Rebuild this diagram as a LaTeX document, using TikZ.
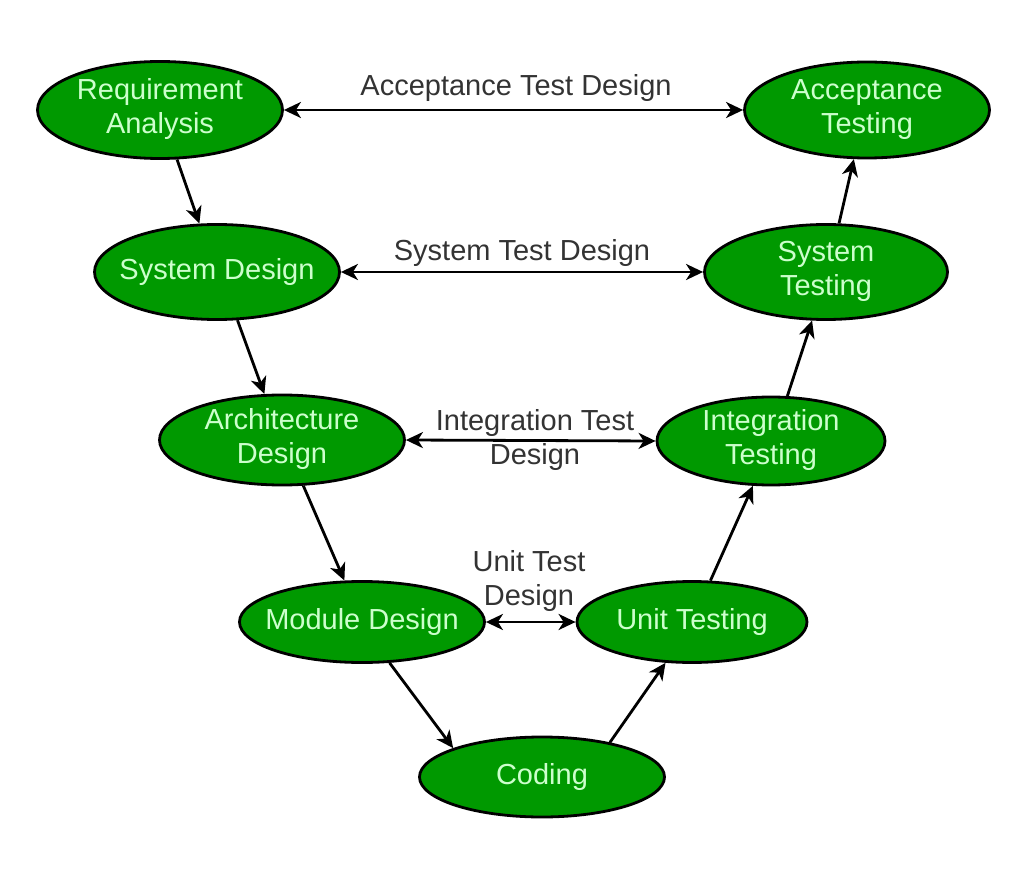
\documentclass[tikz,border=0pt]{standalone}
\usepackage{fontspec}
\setmainfont{Liberation Sans}
\usetikzlibrary{shapes.geometric,arrows.meta}
\definecolor{nodegreen}{HTML}{009900}
\definecolor{nodetext}{HTML}{CCFFCC}
\definecolor{labeltext}{HTML}{333333}
\tikzset{
  phase/.style={ellipse, draw=black, line width=2.8pt, fill=nodegreen, text=nodetext,
    inner xsep=-60pt, inner ysep=-30pt, align=center, font=\fontsize{29}{34}\selectfont},
  flow/.style={line width=2.8pt, -{Stealth[length=17pt,width=16pt,inset=5pt]}},
  both/.style={line width=2.8pt, {Stealth[length=17pt,width=16pt,inset=5pt]}-{Stealth[length=17pt,width=16pt,inset=5pt]}},
  lbl/.style={text=labeltext, align=center, inner sep=0pt, font=\fontsize{29}{34}\selectfont}
}
\begin{document}
\begin{tikzpicture}[x=1pt,y=-1pt]
\useasboundingbox (0,0) rectangle (1036,874);
\node[phase, minimum width=245pt, minimum height=97pt] (RA) at (160,110) {\raisebox{-3pt}{\begin{tabular}{@{}c@{}}Requirement\\Analysis\end{tabular}}};
\node[phase, minimum width=245pt, minimum height=96pt] (AT) at (867,110) {\raisebox{-3pt}{\begin{tabular}{@{}c@{}}Acceptance\\Testing\end{tabular}}};
\node[phase, minimum width=245pt, minimum height=95pt] (SD) at (217,272) {\raisebox{-2pt}{System Design}};
\node[phase, minimum width=243pt, minimum height=95pt] (ST) at (826,272) {\raisebox{-3pt}{\begin{tabular}{@{}c@{}}System\\Testing\end{tabular}}};
\node[phase, minimum width=245pt, minimum height=90pt] (AD) at (282,440) {\raisebox{-3pt}{\begin{tabular}{@{}c@{}}Architecture\\Design\end{tabular}}};
\node[phase, minimum width=228pt, minimum height=88pt] (IT) at (771,441) {\raisebox{-3pt}{\begin{tabular}{@{}c@{}}Integration\\Testing\end{tabular}}};
\node[phase, minimum width=245pt, minimum height=81pt] (MD) at (362,622) {\raisebox{-2pt}{Module Design}};
\node[phase, minimum width=230pt, minimum height=81pt] (UT) at (692,622) {\raisebox{-2pt}{Unit Testing}};
\node[phase, minimum width=245pt, minimum height=80pt] (CO) at (542,777) {\raisebox{-2pt}{Coding}};

\draw[flow] (RA.-71) -- (SD.110);
\draw[flow] (SD.-67) -- (AD.111);
\draw[flow] (AD.-65) -- (MD.113);
\draw[flow] (MD.-56) -- (CO.162);
\draw[flow] (CO.27) -- (UT.-123);
\draw[flow] (UT.66) -- (IT.-112);
\draw[flow] (IT.70) -- (ST.-106);
\draw[flow] (ST.75) -- (AT.-105);

\draw[both] (RA.east) -- (AT.west);
\draw[both] (SD.east) -- (ST.west);
\draw[both] (AD.east) -- (IT.west);
\draw[both] (MD.east) -- (UT.west);

\node[lbl] (L1) at (516,88) {Acceptance Test Design};
\node[lbl] (L2) at (522,253) {System Test Design};
\node[lbl] (L3) at (535,440) {Integration Test\\Design};
\node[lbl] (L4) at (529,581) {Unit Test\\Design};
\end{tikzpicture}
\end{document}
